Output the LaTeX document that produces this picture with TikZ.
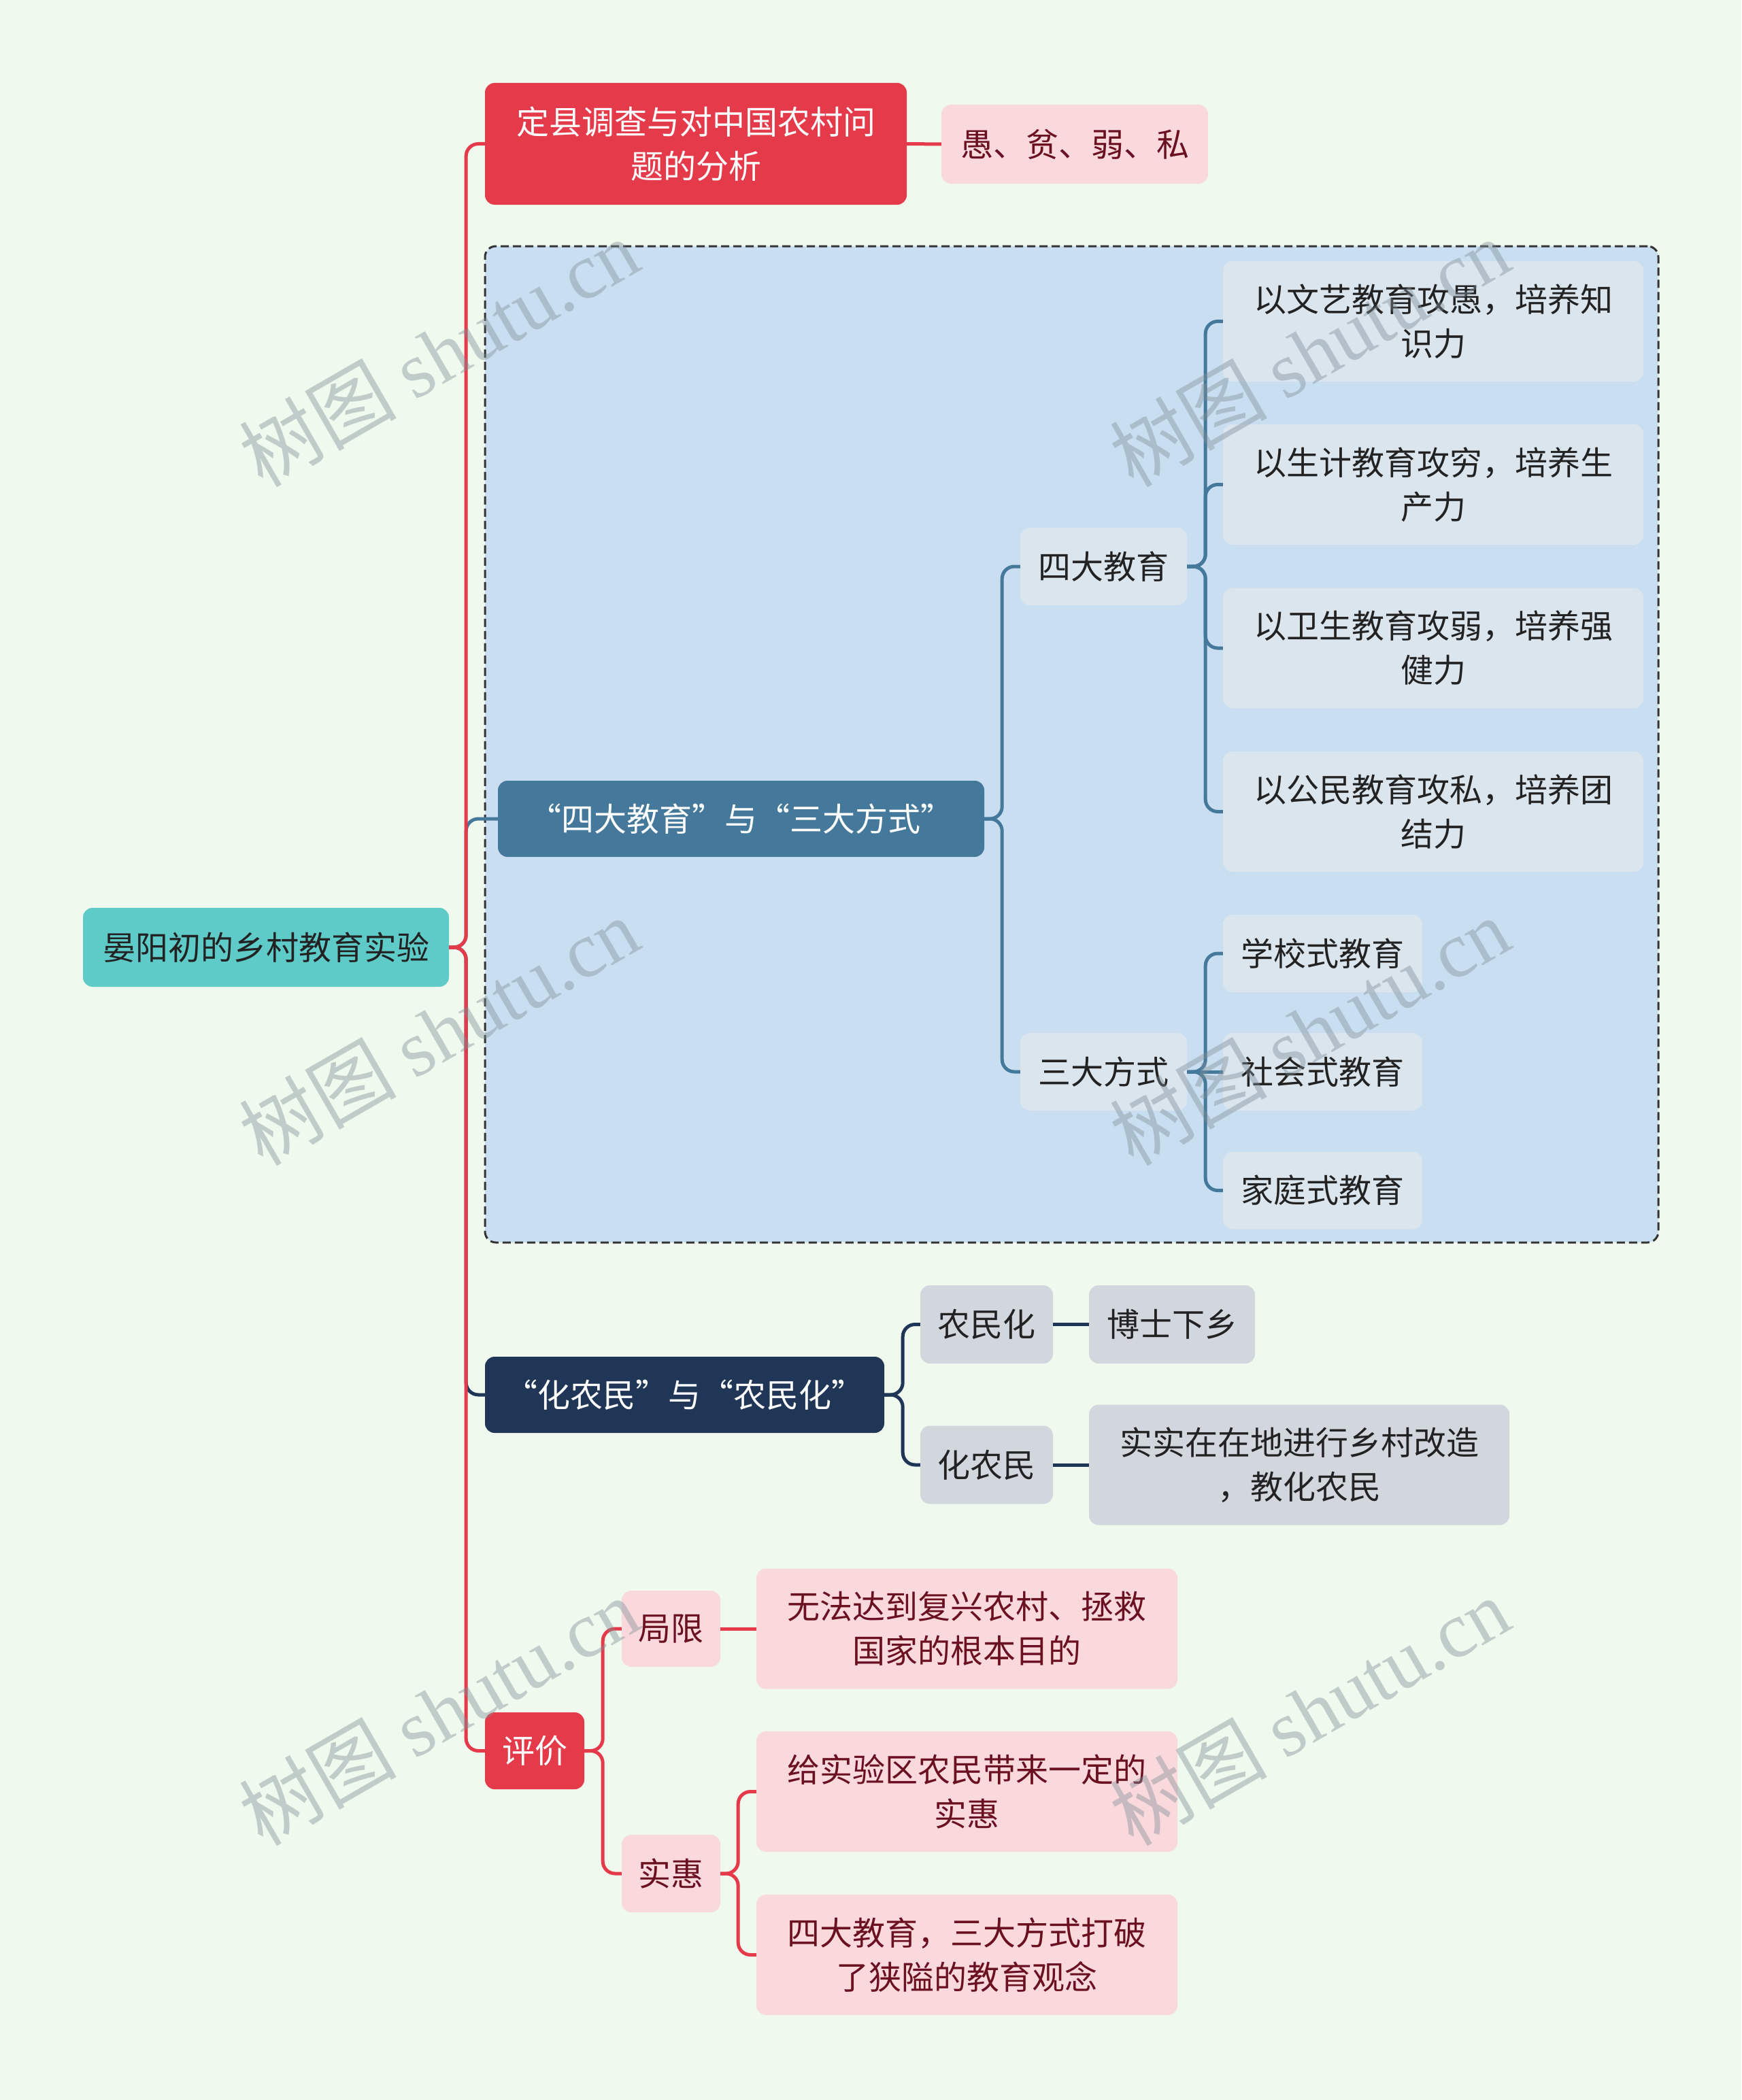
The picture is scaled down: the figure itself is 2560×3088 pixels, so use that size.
\documentclass[tikz,border=0pt]{standalone}
\usepackage{fontspec}
\setmainfont{Noto Sans CJK SC}
\newfontfamily\wmlat{Liberation Serif}
\newfontfamily\wmcjk{Noto Sans CJK SC}
\definecolor{bgc}{HTML}{F0F9EE}
\definecolor{redc}{HTML}{E43A4A}
\definecolor{pinkc}{HTML}{FAD9DD}
\definecolor{darkred}{HTML}{6B1020}
\definecolor{bluec}{HTML}{45799B}
\definecolor{groupc}{HTML}{C9DFF1}
\definecolor{lightc}{HTML}{DAE5EE}
\definecolor{grayc}{HTML}{D2D7DE}
\definecolor{navyc}{HTML}{1F3657}
\definecolor{tealc}{HTML}{5FCBC9}
\definecolor{txtc}{HTML}{222222}
\definecolor{wmc}{HTML}{7F8E96}
\newcommand\fs{\fontsize{48}{65}\selectfont}
\tikzset{
  box/.style={rounded corners=14pt, align=center, inner sep=0pt, font=\fs},
  rootbox/.style={box, fill=tealc, text=txtc},
  redbox/.style={box, fill=redc, text=white},
  pinkbox/.style={box, fill=pinkc, text=darkred},
  bluebox/.style={box, fill=bluec, text=white},
  lightbox/.style={box, fill=lightc, text=txtc},
  navybox/.style={box, fill=navyc, text=white},
  graybox/.style={box, fill=grayc, text=txtc},
  conn/.style={line width=5pt, rounded corners=18pt},
  redline/.style={conn, draw=redc},
  blueline/.style={conn, draw=bluec},
  navyline/.style={conn, draw=navyc},
  wm/.style={rotate=30, text=wmc, opacity=0.42, inner sep=0pt}
}
\begin{document}
\begin{tikzpicture}[x=1pt,y=-1pt]
\useasboundingbox (0,0) rectangle (2560,3088);
\fill[bgc] (0,0) rectangle (2560,3088);

% dashed group
\node[draw=black!80, fill=groupc, line width=3pt, dash pattern=on 12pt off 6pt, rounded corners=16pt, minimum width=1725pt, minimum height=1465pt, inner sep=0pt] (grp) at (1575.5,1094.5) {};

% nodes
\node[rootbox, minimum width=538pt, minimum height=116pt] (root) at (391,1393) {晏阳初的乡村教育实验};
\node[redbox, minimum width=620pt, minimum height=179pt] (ding) at (1023,211.5) {定县调查与对中国农村问\\题的分析};
\node[pinkbox, minimum width=392pt, minimum height=116pt] (yu) at (1580,212) {愚、贫、弱、私};

\node[bluebox, minimum width=715pt, minimum height=112pt] (sida3) at (1089.5,1204) {“四大教育”与“三大方式”};
\node[lightbox, minimum width=245pt, minimum height=114pt] (sida) at (1622.5,833) {四大教育};
\node[lightbox, minimum width=618pt, minimum height=177pt] (w1) at (2107,472.5) {以文艺教育攻愚，培养知\\识力};
\node[lightbox, minimum width=618pt, minimum height=177pt] (w2) at (2107,712.5) {以生计教育攻穷，培养生\\产力};
\node[lightbox, minimum width=618pt, minimum height=177pt] (w3) at (2107,953) {以卫生教育攻弱，培养强\\健力};
\node[lightbox, minimum width=618pt, minimum height=177pt] (w4) at (2107,1193.5) {以公民教育攻私，培养团\\结力};
\node[lightbox, minimum width=245pt, minimum height=114pt] (sanda) at (1622.5,1576) {三大方式};
\node[lightbox, minimum width=293pt, minimum height=114pt] (s1) at (1944.5,1402) {学校式教育};
\node[lightbox, minimum width=293pt, minimum height=114pt] (s2) at (1944.5,1576) {社会式教育};
\node[lightbox, minimum width=293pt, minimum height=114pt] (s3) at (1944.5,1750.5) {家庭式教育};

\node[navybox, minimum width=587pt, minimum height=112pt] (hua) at (1006.5,2051) {“化农民”与“农民化”};
\node[graybox, minimum width=195pt, minimum height=115pt] (nmh) at (1450.5,1947.5) {农民化};
\node[graybox, minimum width=244pt, minimum height=115pt] (bs) at (1723,1947.5) {博士下乡};
\node[graybox, minimum width=195pt, minimum height=115pt] (hnm) at (1450.5,2154) {化农民};
\node[graybox, minimum width=618pt, minimum height=177pt] (ss) at (1910,2154) {实实在在地进行乡村改造\\，教化农民};

\node[redbox, minimum width=146pt, minimum height=113pt] (pj) at (786,2574.5) {评价};
\node[pinkbox, minimum width=145pt, minimum height=112pt] (jx) at (986.5,2395) {局限};
\node[pinkbox, minimum width=619pt, minimum height=177pt] (wf) at (1421.5,2395) {无法达到复兴农村、拯救\\国家的根本目的};
\node[pinkbox, minimum width=145pt, minimum height=114pt] (sh) at (986.5,2755) {实惠};
\node[pinkbox, minimum width=619pt, minimum height=177pt] (gs) at (1421.5,2634.5) {给实验区农民带来一定的\\实惠};
\node[pinkbox, minimum width=619pt, minimum height=177pt] (sd) at (1421.5,2874.5) {四大教育，三大方式打破\\了狭隘的教育观念};

% connectors
\draw[blueline] (root.east) -- ++(25,0) |- (sida3.west);
\draw[navyline] (root.east) -- ++(25,0) |- (hua.west);
\draw[redline] (root.east) -- ++(25,0) |- (ding.west);
\draw[redline] (root.east) -- ++(25,0) |- (pj.west);
\draw[redline] (ding.east) -- (yu.west);

\draw[blueline] (sida3.east) -- ++(26,0) |- (sida.west);
\draw[blueline] (sida3.east) -- ++(26,0) |- (sanda.west);
\draw[blueline] (sida.east) -- ++(27,0) |- (w1.west);
\draw[blueline] (sida.east) -- ++(27,0) |- (w2.west);
\draw[blueline] (sida.east) -- ++(27,0) |- (w3.west);
\draw[blueline] (sida.east) -- ++(27,0) |- (w4.west);
\draw[blueline] (sanda.east) -- ++(27,0) |- (s1.west);
\draw[blueline] (sanda.east) -- (s2.west);
\draw[blueline] (sanda.east) -- ++(27,0) |- (s3.west);

\draw[navyline] (hua.east) -- ++(27,0) |- (nmh.west);
\draw[navyline] (hua.east) -- ++(27,0) |- (hnm.west);
\draw[navyline] (nmh.east) -- (bs.west);
\draw[navyline] (hnm.east) -- (ss.west);

\draw[redline] (pj.east) -- ++(27,0) |- (jx.west);
\draw[redline] (pj.east) -- ++(27,0) |- (sh.west);
\draw[redline] (jx.east) -- (wf.west);
\draw[redline] (sh.east) -- ++(26,0) |- (gs.west);
\draw[redline] (sh.east) -- ++(26,0) |- (sd.west);

% watermarks
\foreach \n/\px/\py in {a/645/518, b/1925/518, c/645/1516, d/1925/1516, e/645/2516, f/1925/2516}{
  \node[wm] (wm\n) at (\px,\py) {\fontsize{116}{116}\selectfont\wmcjk 树图\ \wmlat shutu.cn};
}
\end{tikzpicture}
\end{document}
